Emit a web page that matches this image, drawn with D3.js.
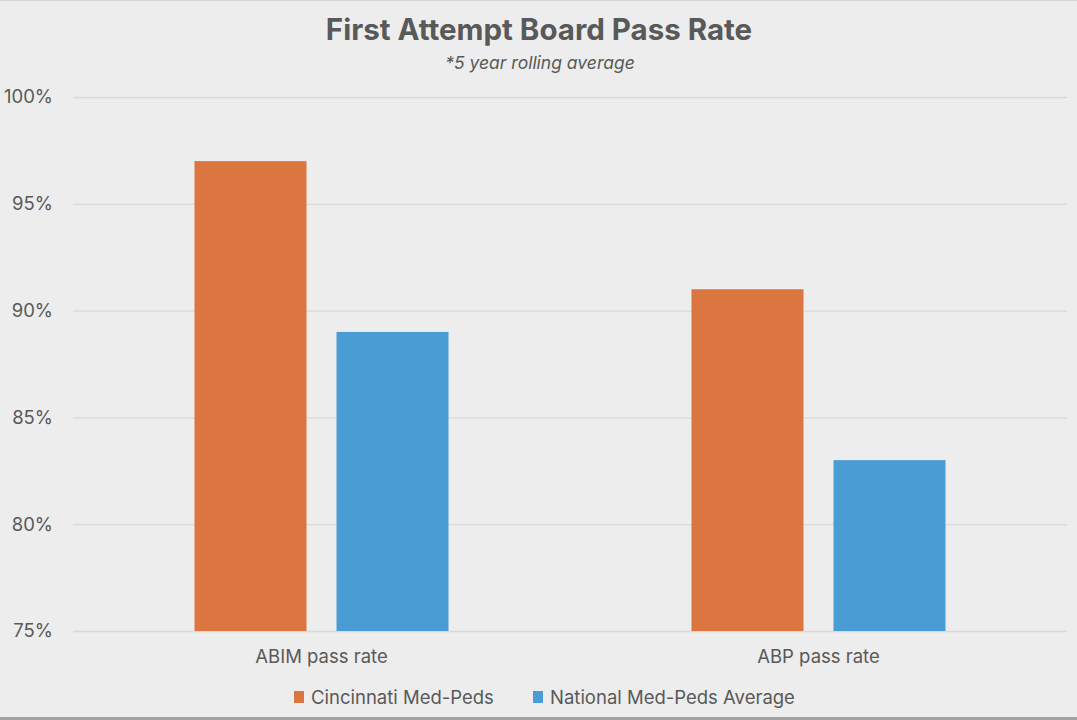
<!DOCTYPE html>
<html>
<head>
<meta charset="utf-8">
<script src="https://cdn.jsdelivr.net/npm/d3@7"></script>
<style>
  html, body { margin: 0; padding: 0; background: #ededed; }
  svg { display: block; }
</style>
</head>
<body>
<script>
const categories = ["ABIM pass rate", "ABP pass rate"];
const seriesNames = ["Cincinnati Med-Peds", "National Med-Peds Average"];
const cincinnati = [97, 91];
const national = [89, 83];
const yTicks = [75, 80, 85, 90, 95, 100];

const width = 1077, height = 720;
const margin = { top: 97, right: 10, bottom: 89, left: 73 };
const colors = ["#dc7641", "#4a9dd4"];
const textColor = "#595959";
const font = "Inter, 'Open Sans', sans-serif";

const svg = d3.select("body").append("svg")
    .attr("width", width)
    .attr("height", height);

svg.append("rect").attr("width", width).attr("height", height).attr("fill", "#ededed");
svg.append("rect").attr("x", 0).attr("y", 0).attr("width", width).attr("height", 1).attr("fill", "#d6d6d6");
svg.append("rect").attr("x", 0).attr("y", 717).attr("width", width).attr("height", 3).attr("fill", "#a3a3a3");

// title
svg.append("text")
    .attr("x", 539).attr("y", 40)
    .attr("text-anchor", "middle")
    .attr("font-family", font)
    .attr("font-weight", 700)
    .attr("font-size", 29.5)
    .attr("fill", textColor)
    .text("First Attempt Board Pass Rate");

svg.append("text")
    .attr("x", 540).attr("y", 69)
    .attr("text-anchor", "middle")
    .attr("font-family", font)
    .attr("font-style", "italic")
    .attr("font-size", 17.5)
    .attr("fill", textColor)
    .text("*5 year rolling average");

// scales
let x0 = d3.scaleBand()
    .domain(categories)
    .range([margin.left, width - margin.right])
    .paddingInner(0)
    .paddingOuter(0);

let y = d3.scaleLinear()
    .domain([75, 100])
    .range([height - margin.bottom, margin.top]);

const barW = 112, gap = 30;

// grid
let yAxis = d3.axisLeft(y).tickValues(yTicks)
    .tickSize(-(width - margin.right - margin.left))
    .tickPadding(20)
    .tickFormat(d => d + "%");

let gy = svg.append("g")
    .attr("transform", `translate(${margin.left},0)`)
    .call(yAxis);
gy.select(".domain").remove();
gy.selectAll(".tick line").attr("stroke", "#d9d9d9").attr("stroke-width", 1.3);
gy.selectAll(".tick text")
    .attr("font-family", font)
    .attr("font-size", 18.5)
    .attr("fill", textColor);

// bars
const rows = categories.map((c, i) => ({ cat: c, vals: [cincinnati[i], national[i]] }));

let groups = svg.selectAll("g.cat")
    .data(rows)
    .enter()
    .append("g")
    .attr("class", "cat")
    .attr("transform", d => `translate(${x0(d.cat) + x0.bandwidth() / 2},0)`);

groups.selectAll("rect")
    .data(d => d.vals)
    .enter()
    .append("rect")
    .attr("x", (d, i) => i === 0 ? -(gap / 2 + barW) : gap / 2)
    .attr("y", d => y(d))
    .attr("width", barW)
    .attr("height", d => y(75) - y(d))
    .attr("fill", (d, i) => colors[i]);

// x labels
let xAxis = d3.axisBottom(x0).tickSize(0).tickPadding(19);
let gx = svg.append("g")
    .attr("transform", `translate(0,${height - margin.bottom})`)
    .call(xAxis);
gx.select(".domain").remove();
gx.selectAll(".tick text")
    .attr("font-family", font)
    .attr("font-size", 18.5)
    .attr("fill", textColor);

// legend
const legendItems = [
    { name: seriesNames[0], x: 294 },
    { name: seriesNames[1], x: 533 }
];
let lg = svg.selectAll("g.legend")
    .data(legendItems)
    .enter()
    .append("g")
    .attr("class", "legend")
    .attr("transform", d => `translate(${d.x},697)`);

lg.append("rect")
    .attr("x", 0).attr("y", -6)
    .attr("width", 10).attr("height", 12)
    .attr("fill", (d, i) => colors[i]);

lg.append("text")
    .attr("x", 17).attr("y", 6.5)
    .attr("font-family", font)
    .attr("font-size", 18.5)
    .attr("fill", textColor)
    .text(d => d.name);
</script>
</body>
</html>
